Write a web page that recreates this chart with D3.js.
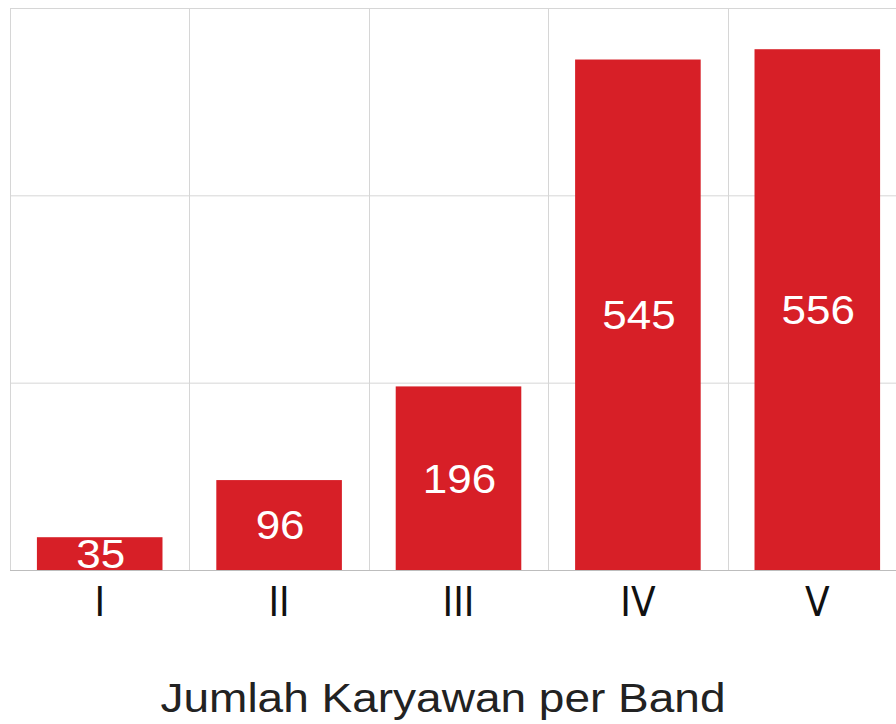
<!DOCTYPE html>
<html><head><meta charset="utf-8">
<script src="https://cdn.jsdelivr.net/npm/d3@7"></script>
<style>html,body{margin:0;padding:0;background:#fff;}</style>
</head><body>
<svg id="c" width="896" height="724"></svg>
<script>
const categories = ["I", "II", "III", "IV", "V"];
const values = [35, 96, 196, 545, 556];
const yTicks = [0, 200, 400, 600];
const title = "Jumlah Karyawan per Band";

const svg = d3.select("#c");
const x = d3.scaleBand().domain(categories).range([10, 907]).paddingInner(0.3).paddingOuter(0.15);
const y = d3.scaleLinear().domain([0, 600]).range([570, 8]);

// horizontal grid
svg.append("g").selectAll("line").data(yTicks).join("line")
  .attr("x1", 10).attr("x2", 896)
  .attr("y1", d => y(d) + 0.5).attr("y2", d => y(d) + 0.5)
  .attr("stroke", d => d === 0 ? "#bdbdbd" : "#d6d6d6").attr("stroke-width", 1);

// vertical grid at band boundaries
const bounds = categories.map(c => x(c) - x.step() * x.paddingOuter());
svg.append("g").selectAll("line").data(bounds).join("line")
  .attr("x1", d => Math.round(d) + 0.5).attr("x2", d => Math.round(d) + 0.5)
  .attr("y1", y(600)).attr("y2", y(0))
  .attr("stroke", "#d6d6d6").attr("stroke-width", 1);

// bars
svg.append("g").selectAll("rect").data(values).join("rect")
  .attr("x", (d, i) => x(categories[i]))
  .attr("width", x.bandwidth())
  .attr("y", d => y(d))
  .attr("height", d => y(0) - y(d))
  .attr("fill", "#d71f27");

// value labels
svg.append("g").selectAll("text").data(values).join("text")
  .attr("transform", (d, i) => `translate(${x(categories[i]) + x.bandwidth() / 2 + 1},${(y(d) + y(0)) / 2}) scale(1.1,1)`)
  .attr("dy", "0.36em")
  .attr("text-anchor", "middle")
  .attr("font-family", "'Liberation Sans', Arial, sans-serif")
  .attr("font-size", 40)
  .attr("fill", "#fff")
  .text(d => d);

// category labels
svg.append("g").selectAll("text").data(categories).join("text")
  .attr("x", d => x(d) + x.bandwidth() / 2)
  .attr("y", 616)
  .attr("text-anchor", "middle")
  .attr("font-family", "'DejaVu Sans Condensed', 'DejaVu Sans', sans-serif")
  .attr("font-size", 40)
  .attr("fill", "#111")
  .text(d => d);

svg.append("text")
  .attr("transform", "translate(443,712) scale(1.15,1)")
  .attr("text-anchor", "middle")
  .attr("font-family", "'Liberation Sans', Arial, sans-serif")
  .attr("font-size", 40)
  .attr("fill", "#222")
  .text(title);
</script>
</body></html>
